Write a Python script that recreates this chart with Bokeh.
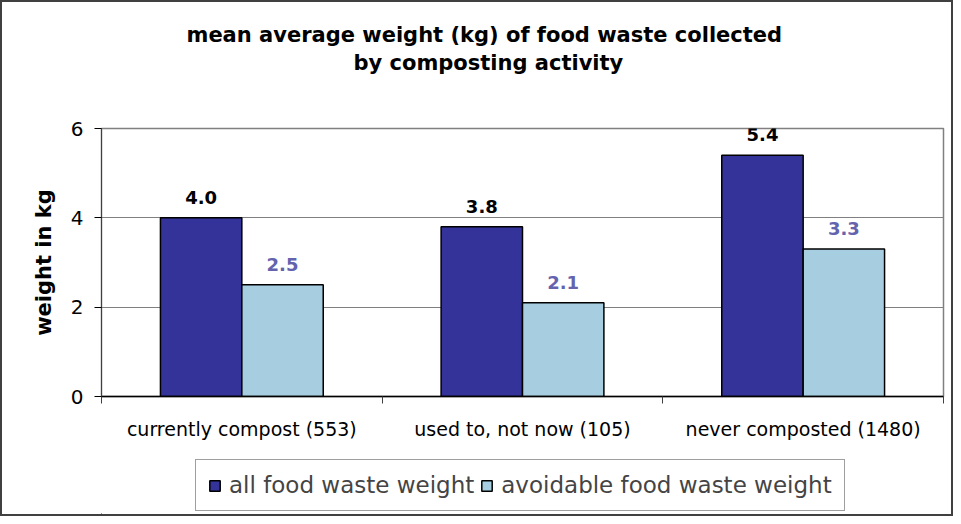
import numpy as np
from bokeh.plotting import figure
from bokeh.layouts import column
from bokeh.models import (ColumnDataSource, FixedTicker, Legend, LegendItem, Title, Range1d)
from bokeh.embed import file_html
from bokeh.resources import INLINE
from bokeh.core.properties import value

categories = ["currently compost (553)", "used to, not now (105)", "never composted (1480)"]
all_weight = [4.0, 3.8, 5.4]
avoidable_weight = [2.5, 2.1, 3.3]
series_names = ["all food waste weight", "avoidable food waste weight"]
title_lines = ["mean average weight (kg) of food waste collected", "by composting activity"]
y_ticks = [0, 2, 4, 6]

C_ALL = "#333399"
C_AVOID = "#A6CEE0"
C_AVOID_LABEL = "#6363AE"
FONT = "DejaVu Sans"

idx = np.arange(len(categories))
bw = 0.29
src_all = ColumnDataSource(dict(x=idx + 0.5 - bw / 2, top=all_weight,
                                lab=[f"{v:.1f}" for v in all_weight]))
src_av = ColumnDataSource(dict(x=idx + 0.5 + bw / 2, top=avoidable_weight,
                               lab=[f"{v:.1f}" for v in avoidable_weight]))

p = figure(width=949, height=440, output_backend="svg", toolbar_location=None,
           x_range=Range1d(0, len(categories)), y_range=Range1d(0, 6),
           min_border_left=99, min_border_right=8, min_border_top=126, min_border_bottom=44)
p.background_fill_color = "white"
p.border_fill_color = "white"
p.outline_line_color = "#808080"
p.outline_line_width = 1.5

bar_all = dict(fill_color=C_ALL, line_color="black", line_width=1.5)
bar_av = dict(fill_color=C_AVOID, line_color="black", line_width=1.5)
p.vbar(x="x", top="top", width=bw, source=src_all, **bar_all)
p.vbar(x="x", top="top", width=bw, source=src_av, **bar_av)

p.text(x="x", y="top", text="lab", source=src_all, y_offset=-14,
       text_align="center", text_baseline="bottom", text_font=value(FONT),
       text_font_style="bold", text_font_size="18px", text_color="black")
p.text(x="x", y="top", text="lab", source=src_av, y_offset=-14,
       text_align="center", text_baseline="bottom", text_font=value(FONT),
       text_font_style="bold", text_font_size="18px", text_color=C_AVOID_LABEL)

# axes
p.xgrid.visible = False
p.ygrid.grid_line_color = "#808080"
p.ygrid.grid_line_width = 1
p.yaxis.ticker = FixedTicker(ticks=y_ticks)
p.yaxis.minor_tick_line_color = None
p.yaxis.major_tick_in = 0
p.yaxis.major_tick_out = 7
p.yaxis.axis_line_color = "#404040"
p.yaxis.major_label_text_font = FONT
p.yaxis.major_label_text_font_size = "20px"
p.yaxis.major_label_text_color = "black"
p.yaxis.major_label_standoff = 11
p.yaxis.axis_label = "weight in kg"
p.yaxis.axis_label_text_font = FONT
p.yaxis.axis_label_text_font_size = "21px"
p.yaxis.axis_label_text_font_style = "bold"
p.yaxis.axis_label_text_color = "black"
p.yaxis.axis_label_standoff = 12

p.xaxis.ticker = FixedTicker(ticks=list(idx + 0.5), minor_ticks=list(range(len(categories) + 1)))
p.xaxis.major_label_overrides = {float(i + 0.5): c for i, c in enumerate(categories)}
p.xaxis.major_tick_in = 0
p.xaxis.major_tick_out = 0
p.xaxis.minor_tick_in = 0
p.xaxis.minor_tick_out = 7
p.xaxis.minor_tick_line_color = "#404040"
p.xaxis.axis_line_color = "black"
p.xaxis.axis_line_width = 1.5
p.xaxis.major_label_text_font = FONT
p.xaxis.major_label_text_font_size = "19px"
p.xaxis.major_label_text_color = "black"
p.xaxis.major_label_standoff = 14

# titles: spacer closest to the frame, then line 2, then line 1 (centred on the whole chart)
p.add_layout(Title(text=" ", text_font_size="2px", standoff=48), "above")
p.add_layout(Title(text=title_lines[1], align="left", offset=252, text_font=FONT,
                   text_color="black", text_font_size="21px", text_font_style="bold",
                   standoff=4), "above")
p.add_layout(Title(text=title_lines[0], align="left", offset=85, text_font=FONT,
                   text_color="black", text_font_size="21px", text_font_style="bold",
                   standoff=0), "above")

# legend strip below the chart (its renderers lie outside its visible range)
q = figure(width=949, height=72, output_backend="svg", toolbar_location=None,
           x_range=Range1d(100, 101), y_range=Range1d(100, 101),
           min_border_left=0, min_border_right=0, min_border_top=0, min_border_bottom=0)
q.axis.visible = False
q.grid.visible = False
q.outline_line_color = None
q.background_fill_color = "white"
q.border_fill_color = "white"
l1 = q.vbar(x="x", top="top", width=bw, source=src_all, **bar_all)
l2 = q.vbar(x="x", top="top", width=bw, source=src_av, **bar_av)
legend = Legend(items=[LegendItem(label=series_names[0], renderers=[l1]),
                       LegendItem(label=series_names[1], renderers=[l2])],
                orientation="horizontal", location=(94, 3),
                label_text_font=FONT, label_text_font_size="23px",
                border_line_color="#404040", border_line_width=1,
                glyph_width=13, glyph_height=13, spacing=6, label_standoff=8,
                padding=12, margin=0)
q.add_layout(legend, "center")

layout = column(p, q, spacing=0)
layout.styles = {"border": "2px solid #404040"}

open("out.html", "w").write(file_html(layout, INLINE))
